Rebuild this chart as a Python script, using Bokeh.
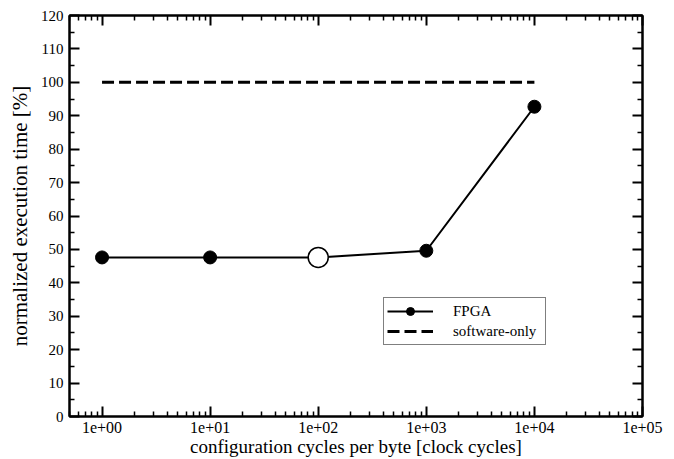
from bokeh.plotting import figure
from bokeh.models import (LogAxis, LinearAxis, FixedTicker, Range1d, Legend,
                          LegendItem, CustomJSTickFormatter)
from bokeh.embed import file_html
from bokeh.resources import INLINE

# ---- data ----
cycles = [1, 10, 100, 1000, 10000]
fpga_time = [47.6, 47.6, 47.6, 49.6, 92.7]
highlight_cycles = [100]
highlight_time = [47.6]
software_cycles = [1, 10000]
software_time = [100, 100]

xtick_values = [1, 10, 100, 1000, 10000, 100000]
xtick_labels = ["1e+00", "1e+01", "1e+02", "1e+03", "1e+04", "1e+05"]
ytick_values = [0, 10, 20, 30, 40, 50, 60, 70, 80, 90, 100, 110, 120]
ytick_labels = ["0", "10", "20", "30", "40", "50", "60", "70", "80", "90", "100", "110", "120"]

FONT = "Liberation Serif"

p = figure(width=674, height=459, x_axis_type="log",
           x_range=Range1d(0.5, 1e5), y_range=Range1d(0, 120),
           output_backend="svg", toolbar_location=None,
           min_border_left=69, min_border_right=32,
           min_border_top=15, min_border_bottom=43)

p.grid.visible = False
p.outline_line_color = "black"
p.outline_line_width = 2
p.background_fill_color = "white"
p.border_fill_color = "white"

bottom = p.xaxis[0]
left = p.yaxis[0]

x_minor = [m * 10.0 ** k for k in range(-1, 5) for m in range(2, 10)]
y_minor = [v + 5 for v in ytick_values[:-1]]
xticker = FixedTicker(ticks=xtick_values, minor_ticks=x_minor)
yticker = FixedTicker(ticks=ytick_values, minor_ticks=y_minor)

xfmt = CustomJSTickFormatter(args=dict(values=xtick_values, labels=xtick_labels), code="""
for (let i = 0; i < values.length; i++) {
  if (Math.abs(Math.log10(values[i]) - Math.log10(tick)) < 1e-6) return labels[i];
}
return '';
""")
yfmt = CustomJSTickFormatter(args=dict(values=ytick_values, labels=ytick_labels), code="""
for (let i = 0; i < values.length; i++) {
  if (Math.abs(values[i] - tick) < 1e-6) return labels[i];
}
return '';
""")
blank = CustomJSTickFormatter(code="return '';")

bottom.ticker = xticker
bottom.formatter = xfmt
left.ticker = yticker
left.formatter = yfmt

top = LogAxis(ticker=xticker, formatter=blank)
right = LinearAxis(ticker=yticker, formatter=blank)
p.add_layout(top, "above")
p.add_layout(right, "right")

for ax in [bottom, left, top, right]:
    ax.major_tick_in = 10
    ax.major_tick_out = 0
    ax.minor_tick_in = 5
    ax.minor_tick_out = 0
    ax.axis_line_width = 2
    ax.axis_line_color = "black"
    ax.major_tick_line_width = 2
    ax.major_tick_line_color = "black"
    ax.minor_tick_line_width = 1.5
    ax.minor_tick_line_color = "black"
    ax.major_label_text_font = FONT
    ax.major_label_text_color = "black"
    ax.axis_label_text_font = FONT
    ax.axis_label_text_font_style = "normal"
    ax.axis_label_text_color = "black"

for ax in [top, right]:
    ax.major_label_standoff = 0

bottom.major_label_text_font_size = "16px"
bottom.major_label_standoff = 5
bottom.axis_label = "configuration cycles per byte [clock cycles]"
bottom.axis_label_text_font_size = "19px"
bottom.axis_label_standoff = 0

left.major_label_text_font_size = "15px"
left.major_label_standoff = 6
left.axis_label = "normalized execution time [%]"
left.axis_label_text_font_size = "21px"
left.axis_label_standoff = 6

sw = p.line(software_cycles, software_time, line_color="black",
            line_width=3, line_dash="12 5")
fl = p.line(cycles, fpga_time, line_color="black", line_width=2)
fd = p.scatter(cycles, fpga_time, size=13, marker="circle",
               fill_color="black", line_color="black")
p.scatter(highlight_cycles, highlight_time, size=20, marker="circle",
          fill_color="white", line_color="black", line_width=1.5)

legend = Legend(items=[LegendItem(label="FPGA", renderers=[fl, fd]),
                       LegendItem(label="software-only", renderers=[sw])],
                location=(314, 71), orientation="vertical")
legend.label_text_font = FONT
legend.label_text_font_size = "15px"
legend.label_text_color = "black"
legend.border_line_color = "black"
legend.border_line_width = 1.5
legend.background_fill_color = "white"
legend.background_fill_alpha = 1
legend.padding = 3
legend.spacing = 0
legend.margin = 0
legend.glyph_width = 46
legend.glyph_height = 20
legend.label_height = 20
legend.label_standoff = 20
legend.label_width = 89
p.add_layout(legend, "center")

open("out.html", "w").write(file_html(p, INLINE))
